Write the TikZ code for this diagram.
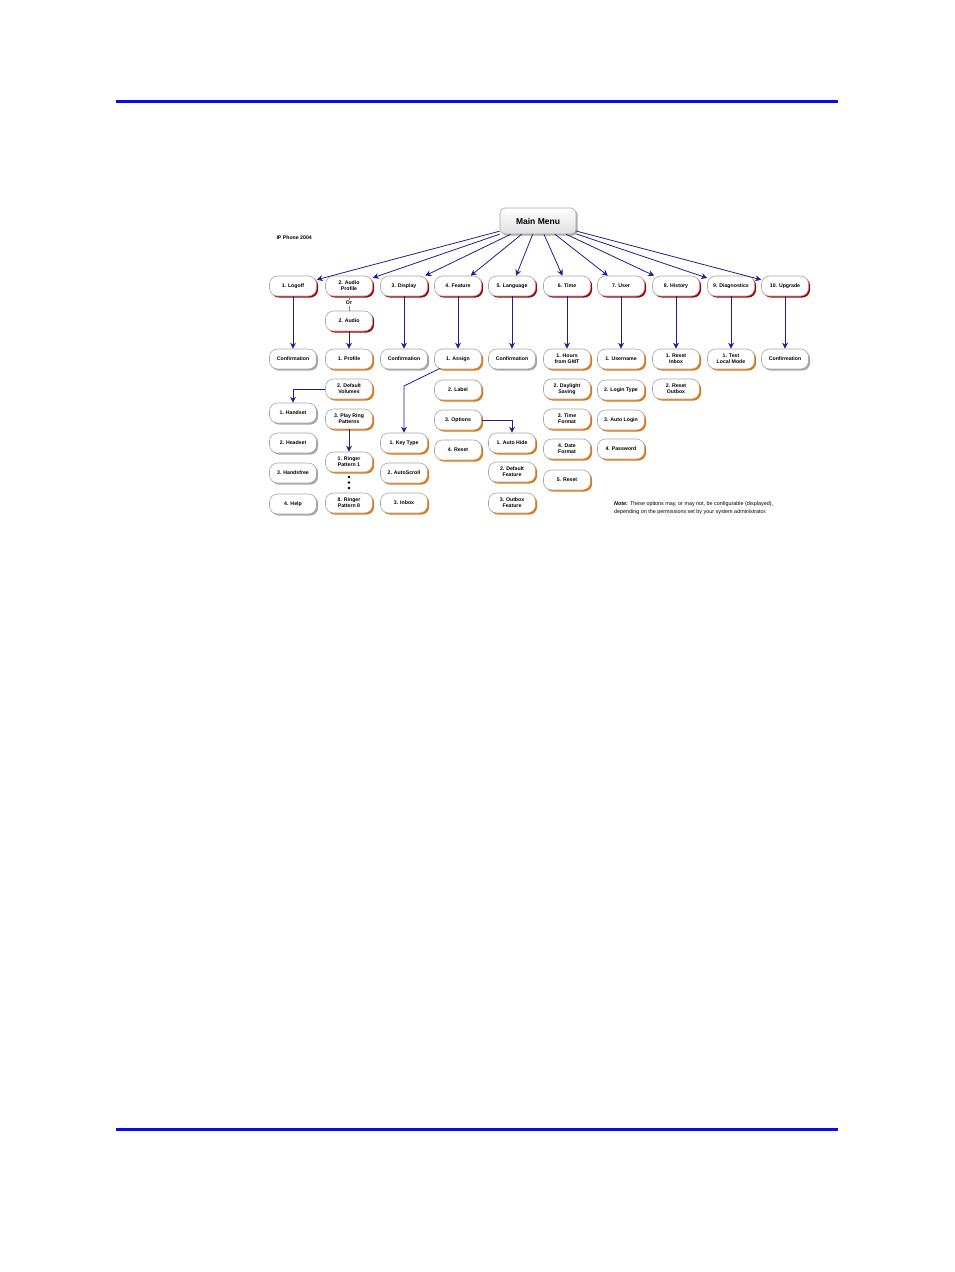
\documentclass[tikz,border=0pt]{standalone}
\usepackage{fontspec}
\setmainfont{Liberation Sans}
\usetikzlibrary{shadows,arrows.meta}
\definecolor{navy}{RGB}{30,30,140}
\definecolor{rulecol}{RGB}{10,10,240}
\tikzset{
  box/.style={draw=gray!70, fill=white, rounded corners=8pt, minimum width=47pt, minimum height=20pt,
    inner sep=1pt, align=center, font=\fontsize{5.2}{5.8}\selectfont\bfseries, line width=0.6pt},
  topbox/.style={box, drop shadow={shadow xshift=1.6pt, shadow yshift=-1.6pt, fill=red!65!black, opacity=1}},
  subbox/.style={box, drop shadow={shadow xshift=1.6pt, shadow yshift=-1.6pt, fill=orange!90!black, opacity=1}},
  confbox/.style={box, drop shadow={shadow xshift=1.6pt, shadow yshift=-1.6pt, fill=gray!70, opacity=1}},
  link/.style={navy, line width=0.8pt, -{Stealth[length=6pt,width=6pt]}}
}
\begin{document}
\begin{tikzpicture}[x=1pt,y=-1pt]
\useasboundingbox (0,0) rectangle (954,1272);
% Page rules
\draw[rulecol, line width=3pt] (116,101) -- (838,101);
\draw[rulecol, line width=3pt] (116,1129) -- (838,1129);

\node[confbox, minimum width=76pt, minimum height=26pt, rounded corners=5pt, top color=white, bottom color=gray!25, font=\fontsize{8.5}{9}\selectfont\bfseries] (main) at (538,221) {Main Menu};
\node[anchor=west, font=\fontsize{5.2}{6}\selectfont\bfseries] (model) at (273,238) {IP Phone 2004};

% Top row
\node[topbox] (logoff) at (293,286) {1. Logoff};
\node[topbox] (audio) at (349,286) {2. Audio\\Profile};
\node[topbox] (display) at (404,286) {3. Display};
\node[topbox] (feature) at (458,286) {4. Feature};
\node[topbox] (language) at (512,286) {5. Language};
\node[topbox] (time) at (567,286) {6. Time};
\node[topbox] (user) at (621,286) {7. User};
\node[topbox] (history) at (676,286) {8. History};
\node[topbox] (diag) at (731,286) {9. Diagnostics};
\node[topbox] (upgrade) at (785,286) {10. Upgrade};

\foreach \n in {logoff,audio,display,feature,language,time,user,history,diag,upgrade}
  \draw[link] (main) -- (\n);

% Second level
\node[font=\fontsize{5.2}{6}\selectfont\bfseries, fill=white, inner sep=0.5pt] (or) at (349,303) {Or};
\node[topbox] (audio2) at (349,321) {2. Audio};
\draw[gray, line width=0.6pt] (audio) -- (or) -- (audio2);

\node[confbox] (conf1) at (293,359) {Confirmation};
\node[subbox] (profile) at (349,359) {1. Profile};
\node[confbox] (conf3) at (404,359) {Confirmation};
\node[subbox] (assign) at (458,359) {1. Assign};
\node[confbox] (conf5) at (512,359) {Confirmation};
\node[subbox] (hours) at (567,359) {1. Hours\\from GMT};
\node[subbox] (username) at (621,359) {1. Username};
\node[subbox] (inbox) at (676,359) {1. Reset\\Inbox};
\node[subbox] (test) at (731,359) {1. Test\\Local Mode};
\node[confbox] (conf10) at (785,359) {Confirmation};

\draw[link] (logoff) -- (conf1);
\draw[link] (audio2) -- (profile);
\draw[link] (display) -- (conf3);
\draw[link] (feature) -- (assign);
\draw[link] (language) -- (conf5);
\draw[link] (time) -- (hours);
\draw[link] (user) -- (username);
\draw[link] (history) -- (inbox);
\draw[link] (diag) -- (test);
\draw[link] (upgrade) -- (conf10);

% Audio profile branch
\node[subbox] (volumes) at (349,389) {2. Default\\Volumes};
\node[subbox] (ring) at (349,419) {3. Play Ring\\Patterns};
\node[subbox] (ringer1) at (349,462) {1. Ringer\\Pattern 1};
\node[subbox] (ringer8) at (349,503) {8. Ringer\\Pattern 8};
\node[confbox] (handset) at (293,413) {1. Handset};
\node[confbox] (headset) at (293,443) {2. Headset};
\node[confbox] (handsfree) at (293,473) {3. Handsfree};
\node[confbox] (help) at (293,504) {4. Help};
\draw[link] (volumes.west) -| (handset.north);
\draw[link] (ring) -- (ringer1);
\foreach \y in {477,482.5,488}
  \fill (349,\y) circle (1.4pt);

% Feature branch
\node[subbox] (label) at (458,390) {2. Label};
\node[subbox] (options) at (458,420) {3. Options};
\node[subbox] (reset4) at (458,450) {4. Reset};
\node[subbox] (keytype) at (404,443) {1. Key Type};
\node[subbox] (autoscroll) at (404,473) {2. AutoScroll};
\node[subbox] (inbox3) at (404,503) {3. Inbox};
\node[subbox] (autohide) at (512,443) {1. Auto Hide};
\node[subbox] (deffeat) at (512,472) {2. Default\\Feature};
\node[subbox] (outbox) at (512,503) {3. Outbox\\Feature};
\coordinate (bend) at (404,386);
\draw[link] (assign.south west) ++(6,-1) -- (bend) -- (keytype.north);
\draw[link] (options.east) -| (autohide.north);

% Time branch
\node[subbox] (daylight) at (567,389) {2. Daylight\\Saving};
\node[subbox] (timefmt) at (567,419) {3. Time\\Format};
\node[subbox] (datefmt) at (567,449) {4. Date\\Format};
\node[subbox] (reset5) at (567,480) {5. Reset};

% User branch
\node[subbox] (logintype) at (621,390) {2. Login Type};
\node[subbox] (autologin) at (621,420) {3. Auto Login};
\node[subbox] (password) at (621,449) {4. Password};

% History branch
\node[subbox] (outbox2) at (676,389) {2. Reset\\Outbox};

% Note
\node[anchor=north west, align=left, inner sep=0pt, font=\fontsize{5.4}{8}\selectfont] (note) at (614,501)
  {\textbf{\textit{Note:}} These options may, or may not, be configurable (displayed),\\depending on the permissions set by your system administrator.};
\end{tikzpicture}
\end{document}
